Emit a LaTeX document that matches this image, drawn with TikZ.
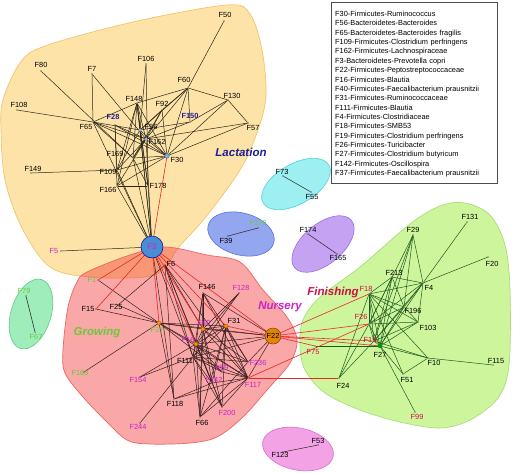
\documentclass[tikz,border=0pt]{standalone}
\usepackage{fontspec}
\setmainfont{Liberation Sans}
\definecolor{lacF}{HTML}{FDE3A7}
\definecolor{lacD}{HTML}{F2C46C}
\definecolor{nurF}{HTML}{F23B3B}
\definecolor{nurD}{HTML}{EE6464}
\definecolor{finF}{HTML}{CDF59C}
\definecolor{finD}{HTML}{A9DE78}
\definecolor{magL}{HTML}{CC22CC}
\definecolor{grnL}{HTML}{6CC83A}
\definecolor{bluL}{HTML}{1E1E96}
\definecolor{redL}{HTML}{CC1144}
\definecolor{edgK}{HTML}{2A2418}
\definecolor{edgN}{HTML}{3A1E1E}
\definecolor{edgG}{HTML}{1E5A1E}
\definecolor{edgR}{HTML}{E82828}
\definecolor{rgGrF}{HTML}{9EEDBB}
\definecolor{rgGrD}{HTML}{5CCB86}
\definecolor{rgCyF}{HTML}{9DEFF2}
\definecolor{rgCyD}{HTML}{4FD3DD}
\definecolor{rgBlF}{HTML}{93A6F0}
\definecolor{rgBlD}{HTML}{5A73DE}
\definecolor{rgPuF}{HTML}{C6A2F2}
\definecolor{rgPuD}{HTML}{9A6CE0}
\definecolor{rgMgF}{HTML}{F3A2E6}
\definecolor{rgMgD}{HTML}{DC6ACB}
\tikzset{
  pt/.style={circle, fill=black, inner sep=0pt, minimum size=1.3pt},
  lbk/.style={font=\fontsize{7.4}{8}\selectfont, inner sep=0.5pt, text=black},
  lmg/.style={lbk, text=magL},
  lgr/.style={lbk, text=grnL},
  lbl/.style={lbk, text=bluL, font=\fontsize{7.4}{8}\selectfont\bfseries},
  lrd/.style={lbk, text=redL},
  lac/.style={draw=edgK, line width=0.5pt},
  nur/.style={draw=edgN, line width=0.5pt},
  fin/.style={draw=edgG, line width=0.5pt},
  crs/.style={draw=edgR, line width=0.6pt},
  phase/.style={font=\fontsize{11.5}{12}\selectfont\bfseries\itshape, inner sep=0pt},
  smallreg/.style={line width=0.6pt},
}
\begin{document}
\begin{tikzpicture}[x=1pt,y=-1pt]
\useasboundingbox (0,0) rectangle (517,472);
% ---------- regions ----------
\filldraw[fill=lacF, draw=lacD, line width=0.7pt] plot[smooth cycle, tension=0.55] coordinates {
 (1,130) (3,100) (20,63) (45,46) (133,22) (227,5) (250,14) (262,50) (266,95) (258,130)
 (240,170) (205,218) (178,248) (165,268) (145,277) (90,277) (50,267) (22,228) (5,180)};
\filldraw[fill=nurF, fill opacity=0.45, draw=nurD, line width=0.7pt] plot[smooth cycle, tension=0.55] coordinates {
 (87,272) (130,255) (165,247) (207,255) (240,262) (263,290) (287,317) (297,340) (290,363)
 (267,390) (243,417) (217,437) (190,443) (150,444) (127,440) (105,420) (83,397) (65,373)
 (63,350) (68,307) (77,282)};
\filldraw[fill=finF, draw=finD, line width=0.7pt] plot[smooth cycle, tension=0.55] coordinates {
 (300,345) (303,320) (320,297) (360,267) (410,224) (440,206) (465,203) (490,215) (505,245)
 (510,290) (509,365) (498,398) (470,420) (440,428) (400,422) (360,410) (325,393) (305,370)};
\filldraw[smallreg, fill=rgGrF, draw=rgGrD] [rotate around={73:(31,314)}] (31,314) ellipse (36 and 20);
\filldraw[smallreg, fill=rgCyF, draw=rgCyD] [rotate around={30:(296,184)}] (296,184) ellipse (38 and 20);
\filldraw[smallreg, fill=rgBlF, draw=rgBlD] [rotate around={-15:(241,234)}] (241,234) ellipse (34 and 21);
\filldraw[smallreg, fill=rgPuF, draw=rgPuD] [rotate around={40:(323,244)}] (323,244) ellipse (37 and 20);
\filldraw[smallreg, fill=rgMgF, draw=rgMgD] [rotate around={-12:(298,449)}] (298,449) ellipse (36 and 21);
% ---------- nodes ----------
\foreach \n/\x/\y in {
 F50/224/21, F80/41/71, F7/92/74, F106/146/64, F108/17/110, F148/137/103, F92/162/110, F60/188/88,
 F130/228/100, F57/248/123, F150/190/122, F28/115/125, F65/93/122, F56/140/130, F162/146/139, F30/167/156,
 F169/133/158, F109/117/170, F166/117/186, F178/148/186, F149/31/173, F5/61/251,
 F6/165/265, F146/203/293, F128/239/293, F31/226/326, F40/203/329, F16/196/344, F37/159/323, F111/193/357,
 F59/222/372, F142/212/383, F236/248/362, F117/248/378, F200/222/407, F66/200/417, F118/174/399,
 F154/140/377, F244/140/423, F163/84/372, F15/96/309, F25/118/305, F1/98/280,
 F18/369/294, F26/369/324, F19/374/341, F27/380/346, F75/315/346, F24/339/378, F213/392/277, F29/413/235,
 F131/467/222, F20/488/257, F4/423/283, F196/404/307, F103/418/322, F10/428/358, F115/493/365, F51/403/374,
 F99/415/412, F79/26/296, F67/35/332, F73/283/176, F55/311/192, F39/228/236, F170/258/228,
 F174/308/234, F165/337/254, F123/283/452, F53/318/445}
 {\node[pt] (\n) at (\x,\y) {};}
\node[circle, inner sep=0pt, minimum size=22pt] (F3) at (152,247) {};
\node[circle, inner sep=0pt, minimum size=16pt] (F22) at (273,336) {};
% ---------- edges ----------
\foreach \a/\b in {F108/F65, F80/F169, F7/F65, F7/F162, F106/F178, F106/F56, F50/F60, F149/F109,
 F60/F148, F60/F130, F60/F92, F60/F56, F60/F162, F60/F150, F60/F30,
 F130/F57, F130/F30, F130/F150, F57/F30, F57/F162,
 F148/F65, F148/F162, F148/F56, F148/F178, F148/F169, F148/F30, F148/F109, F148/F166,
 F92/F56, F92/F162, F92/F30, F92/F169, F28/F162, F28/F109, F28/F166, F28/F30,
 F65/F56, F65/F162, F65/F30, F65/F3, F65/F169, F150/F162, F150/F56,
 F169/F30, F169/F178, F169/F162, F169/F3, F166/F178, F166/F30, F166/F3, F166/F162,
 F109/F30, F109/F162, F109/F3, F109/F56, F56/F3, F162/F3, F56/F30, F162/F30, F178/F56,
 F178/F3, F148/F3, F5/F3}
 {\draw[lac] (\a) -- (\b);}
\foreach \a/\b in {F3/F111, F3/F118, F6/F118, F6/F111, F6/F16, F6/F117, F6/F40, F6/F200,
 F1/F37, F15/F37, F25/F37, F25/F6, F163/F37, F154/F111, F154/F16, F244/F111,
 F37/F22, F37/F40, F37/F31, F37/F16, F37/F118, F37/F59, F37/F117,
 F146/F16, F146/F40, F146/F111, F146/F22, F146/F117, F146/F66, F146/F236,
 F128/F16, F128/F40, F128/F111,
 F31/F16, F31/F40, F31/F111, F31/F117, F31/F142, F31/F200, F31/F236, F31/F59,
 F40/F22, F40/F16, F40/F117, F40/F236, F40/F142, F40/F200, F40/F66,
 F16/F22, F16/F111, F16/F117, F16/F236, F16/F142, F16/F200, F16/F66, F16/F59,
 F111/F22, F111/F117, F111/F142, F111/F200, F111/F66, F111/F236, F111/F59,
 F118/F117, F118/F142, F66/F117, F66/F236, F66/F31, F200/F117,
 F117/F22, F236/F22, F59/F117, F142/F117}
 {\draw[nur] (\a) -- (\b);}
\foreach \a/\b in {F18/F213, F18/F4, F18/F196, F18/F103, F18/F26, F18/F19, F18/F27, F18/F10, F18/F51,
 F26/F4, F26/F213, F26/F196, F26/F103, F26/F27, F26/F19, F26/F29,
 F19/F4, F19/F196, F19/F103, F19/F10, F19/F27, F19/F213, F19/F29,
 F27/F4, F27/F196, F27/F103, F27/F10, F27/F51, F27/F99, F27/F213, F27/F29,
 F4/F29, F4/F131, F4/F20, F4/F213, F4/F196, F4/F103,
 F10/F51, F10/F115, F213/F196, F196/F103, F29/F196,
 F75/F27, F24/F26, F24/F19, F24/F18}
 {\draw[fin] (\a) -- (\b);}
\foreach \a/\b in {F30/F3, F3/F1, F3/F15, F3/F37, F3/F16, F3/F40, F3/F22, F3/F31, F31/F22,
 F22/F18, F22/F26, F22/F19, F22/F27, F22/F75, F117/F24, F117/F26}
 {\draw[crs] (\a) -- (\b);}
\foreach \a/\b in {F79/F67, F73/F55, F39/F170, F174/F165, F123/F53}
 {\draw[lac] (\a) -- (\b);}
% ---------- special markers ----------
\node[circle, fill=cyan!60!blue!50, draw=cyan!50!black, line width=0.4pt, inner sep=0pt, minimum size=4.5pt] (m30) at (F30) {};
\node[circle, fill=cyan!40!blue!40, inner sep=0pt, minimum size=3.5pt] (m56) at (F56) {};
\node[circle, fill=cyan!40!blue!40, inner sep=0pt, minimum size=3.5pt] (m162) at (F162) {};
\foreach \n in {F37,F16,F40,F31}
 {\node[circle, fill=orange!80!yellow, draw=orange!60!black, line width=0.3pt, inner sep=0pt, minimum size=4pt] (m\n) at (\n) {};}
\node[circle, fill=green!60!black, inner sep=0pt, minimum size=4.5pt] (m27) at (F27) {};
\node[circle, fill=cyan!55!blue!75, draw=blue!60!black, line width=0.5pt, inner sep=0pt, minimum size=22pt,
      font=\fontsize{8}{9}\selectfont, text=magL] (c3) at (F3) {F3};
\node[circle, fill=orange!85!yellow!90!black, draw=orange!50!black, line width=0.5pt, inner sep=0pt, minimum size=16pt,
      font=\fontsize{7.4}{8}\selectfont] (c22) at (F22) {F22};
% ---------- labels ----------
\foreach \n/\lx/\ly/\s in {
 F50/225/15/lbk, F80/41/65/lbk, F7/92/69/lbk, F106/146/59/lbk,
 F108/19/105/lbk, F148/134/99/lbk, F92/162/104/lbk, F60/184/80/lbk,
 F130/232/96/lbk, F57/253/128/lbk, F150/190/116/lbl, F28/113/117/lbl,
 F65/86/127/lbk, F56/151/127/lbk, F162/157/142/lbk, F30/177/160/lbk,
 F169/115/154/lbk, F109/108/172/lbk, F166/108/190/lbk, F178/158/186/lbk,
 F149/33/169/lbk, F5/54/251/lmg,
 F6/171/264/lbk, F146/207/287/lbk, F128/241/288/lmg, F31/234/321/lbk,
 F40/204/323/lmg, F16/188/340/lmg, F37/157/330/lgr, F111/185/361/lbk,
 F59/222/368/lmg, F142/214/380/lmg, F236/258/363/lmg, F117/253/385/lmg,
 F200/227/413/lmg, F66/202/423/lbk, F118/175/404/lbk,
 F154/138/380/lmg, F244/138/427/lmg, F163/80/373/lgr,
 F15/88/309/lbk, F25/116/307/lbk, F1/92/280/lgr,
 F18/366/289/lrd, F26/361/317/lrd, F19/370/340/lrd, F27/380/355/lbk,
 F75/313/352/lrd, F24/343/386/lbk, F213/394/273/lbk, F29/413/230/lbk,
 F131/470/217/lbk, F20/492/264/lbk, F4/429/288/lbk, F196/413/311/lbk,
 F103/428/328/lbk, F10/434/363/lbk, F115/496/361/lbk, F51/407/380/lbk,
 F99/417/417/lrd,
 F79/24/291/lgr, F67/36/337/lgr, F73/282/172/lbk, F55/312/197/lbk,
 F39/226/241/lbk, F170/258/223/lgr, F174/308/230/lbk, F165/338/258/lbk,
 F123/280/455/lbk, F53/318/441/lbk}
 {\node[\s] (t\n) at (\lx,\ly) {\n};}
% phase labels
\node[phase, text=bluL] (lact) at (241,152) {Lactation};
\node[phase, text=grnL] (grow) at (97,333) {Growing};
\node[phase, text=magL] (nurs) at (280,307) {Nursery};
\node[phase, text=redL] (fini) at (333,293) {Finishing};
% legend
\filldraw[fill=white, draw=black!70, line width=0.5pt] (331,2) rectangle (497,183);
\node[anchor=north west, align=left, inner xsep=4pt, inner ysep=0pt,
      text width=157pt, font=\fontsize{7.4}{9.35}\selectfont] (legend) at (331,11) {%
F30-Firmicutes-Ruminococcus\\
F56-Bacteroidetes-Bacteroides\\
F65-Bacteroidetes-Bacteroides fragilis\\
F109-Firmicutes-Clostridium perfringens\\
F162-Firmicutes-Lachnospiraceae\\
F3-Bacteroidetes-Prevotella copri\\
F22-Firmicutes-Peptostreptococcaceae\\
F16-Firmicutes-Blautia\\
F40-Firmicutes-Faecalibacterium prausnitzii\\
F31-Firmicutes-Ruminococcaceae\\
F111-Firmicutes-Blautia\\
F4-Firmicutes-Clostridiaceae\\
F18-Firmicutes-SMB53\\
F19-Firmicutes-Clostridium perfringens\\
F26-Firmicutes-Turicibacter\\
F27-Firmicutes-Clostridium butyricum\\
F142-Firmicutes-Oscillospira\\
F37-Firmicutes-Faecalibacterium prausnitzii};
\end{tikzpicture}
\end{document}
